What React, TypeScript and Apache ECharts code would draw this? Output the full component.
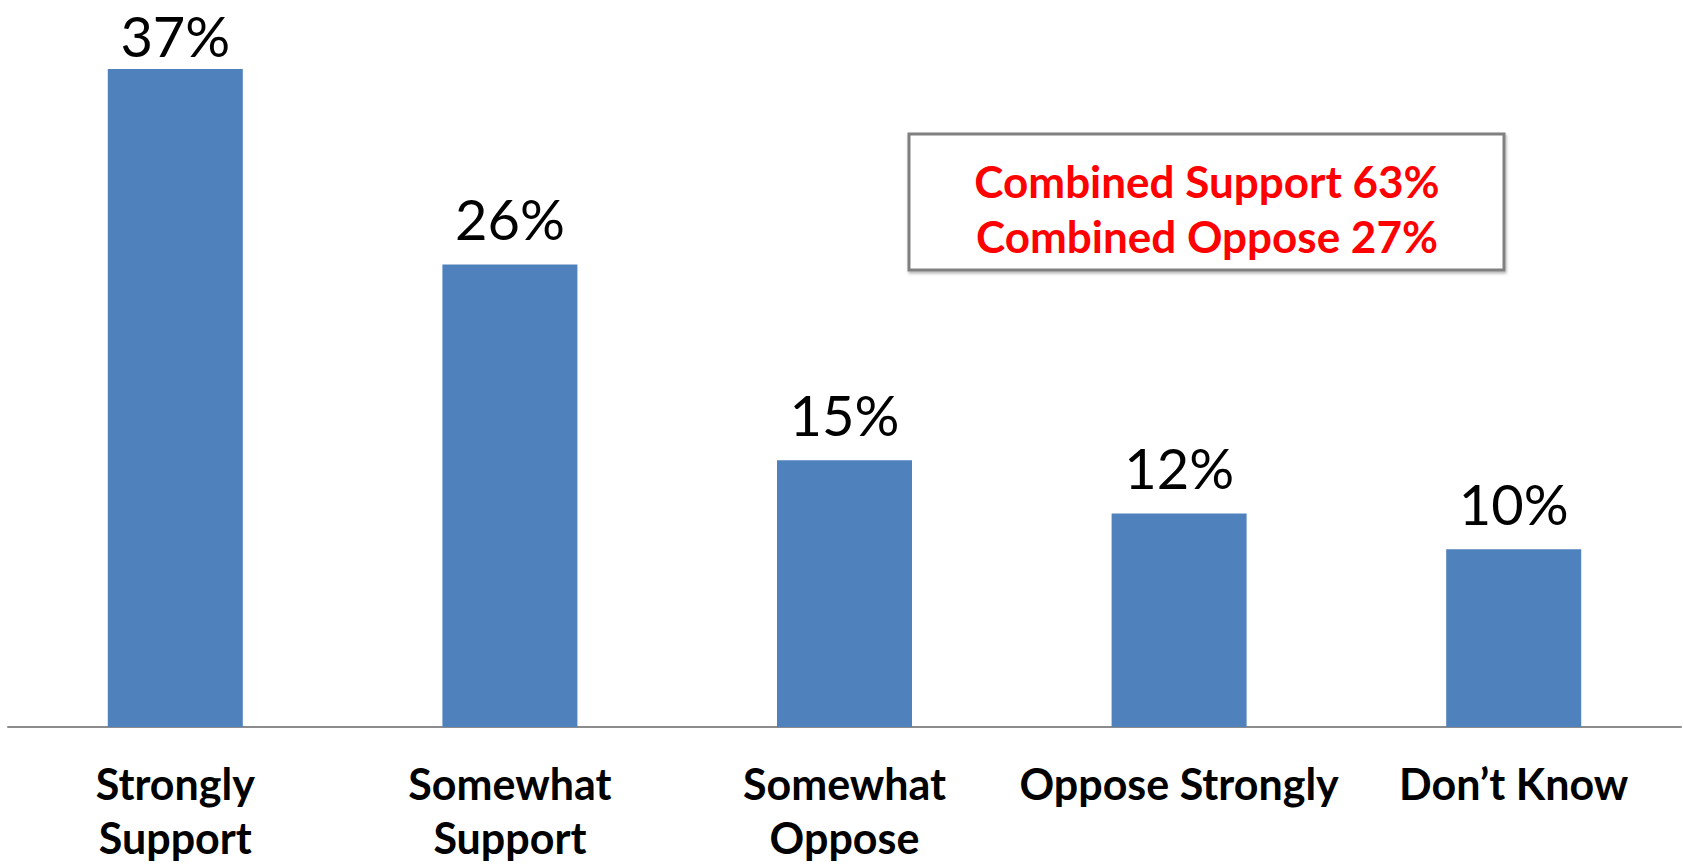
import React, { useEffect, useRef } from "react";
import * as echarts from "echarts";

const categories = ["Strongly\nSupport", "Somewhat\nSupport", "Somewhat\nOppose", "Oppose Strongly", "Don’t Know"];
const values = [37, 26, 15, 12, 10];
const boxLines = ["Combined Support 63%", "Combined Oppose 27%"];

export default function App() {
  const ref = useRef<HTMLDivElement>(null);
  useEffect(() => {
    if (!ref.current) return;
    const chart = echarts.init(ref.current, null, { renderer: "svg" });
    const data = values.map((v, i) => ({
      value: v,
      label: i === 0 ? { distance: 6 } : undefined,
    }));
    chart.setOption({
      animation: false,
      backgroundColor: "#ffffff",
      grid: {
        left: 8,
        right: 2,
        top: 69,
        bottom: 141,
        containLabel: false,
        outerBoundsMode: "none",
      },
      xAxis: {
        type: "category",
        data: categories,
        axisLine: { show: true, lineStyle: { color: "#8c8c8c", width: 2 } },
        axisTick: { show: false },
        axisLabel: {
          interval: 0,
          margin: 29,
          color: "#000000",
          fontFamily: "Lato",
          fontWeight: "bold",
          fontSize: 43,
          lineHeight: 54,
        },
      },
      yAxis: {
        type: "value",
        min: 0,
        max: 37,
        show: false,
        splitLine: { show: false },
      },
      series: [
        {
          type: "bar",
          data,
          barWidth: 135,
          itemStyle: { color: "#4f81bd" },
          label: {
            show: true,
            position: "top",
            distance: 18,
            formatter: "{c}%",
            color: "#000000",
            fontFamily: "Lato",
            fontSize: 56,
            lineHeight: 56,
          },
        },
      ],
      graphic: [
        {
          type: "rect",
          shape: { x: 909, y: 134, width: 595, height: 136 },
          style: {
            fill: "#ffffff",
            stroke: "#808080",
            lineWidth: 3,
            shadowBlur: 3,
            shadowColor: "rgba(0,0,0,0.3)",
            shadowOffsetX: 1,
            shadowOffsetY: 2,
          },
          z: 10,
        },
        {
          type: "text",
          x: 1207,
          y: 208,
          style: {
            text: boxLines.join("\n"),
            fill: "#ff0000",
            fontFamily: "Lato",
            fontWeight: "bold",
            fontSize: 44,
            lineHeight: 55,
            align: "center",
            verticalAlign: "middle",
          },
          z: 11,
        },
      ],
    });
    return () => chart.dispose();
  }, []);
  return (
    <div
      ref={ref}
      style={{ position: "fixed", left: 0, top: 0, width: 1683, height: 868 }}
    />
  );
}
